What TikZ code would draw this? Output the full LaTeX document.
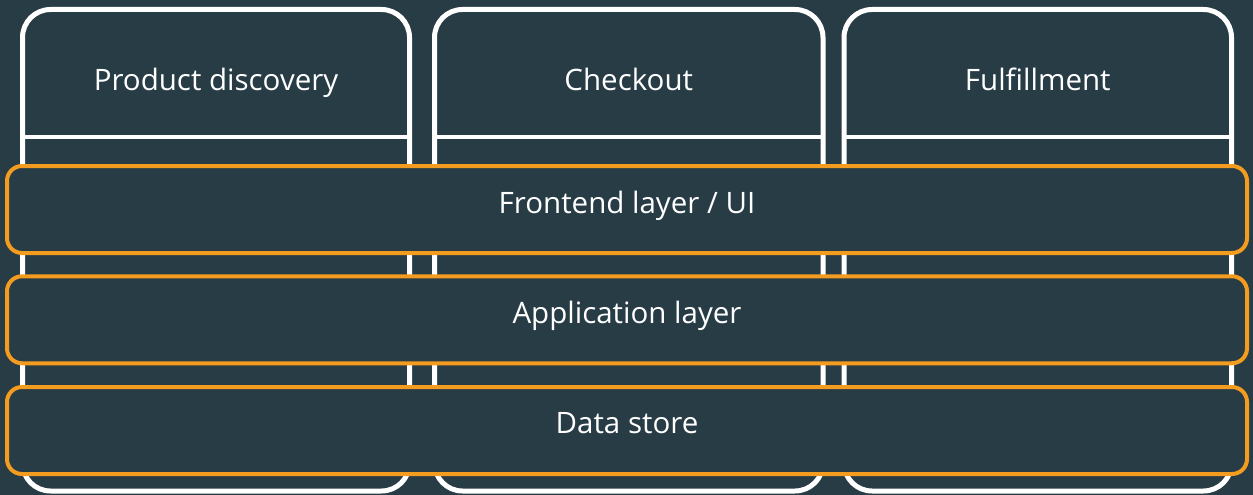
\documentclass[tikz,border=0pt]{standalone}
\usepackage{fontspec}
\setmainfont{Open Sans}
\definecolor{bg}{HTML}{283C46}
\definecolor{layerorange}{HTML}{F39C20}
\tikzset{
  colbox/.style={draw=white, line width=5pt, rounded corners=28pt, minimum width=387pt, minimum height=481.5pt, inner sep=0pt, outer sep=0pt},
  divider/.style={draw=white, line width=4pt},
  layerbox/.style={draw=layerorange, fill=bg, line width=4pt, rounded corners=15pt, minimum width=1240pt, minimum height=87pt, inner sep=0pt, outer sep=0pt},
  lbl/.style={text=white, font=\fontsize{29.5}{35}\selectfont, anchor=base, inner sep=0pt}
}
\begin{document}
\begin{tikzpicture}[x=1pt,y=-1pt]
\fill[bg] (0,0) rectangle (1253,495);
\useasboundingbox (0,0) rectangle (1253,495);
% columns
\node[colbox] (c1) at (216,250.25) {};
\node[colbox, minimum width=388.5pt] (c2) at (628.75,250.25) {};
\node[colbox, minimum width=387.5pt] (c3) at (1037.75,250.25) {};
\coordinate (hl) at (0,137);
\draw[divider] (c1.west |- hl) -- (c1.east |- hl);
\draw[divider] (c2.west |- hl) -- (c2.east |- hl);
\draw[divider] (c3.west |- hl) -- (c3.east |- hl);
\node[lbl] (t1) at (216,90) {Product discovery};
\node[lbl] (t2) at (628.75,90) {Checkout};
\node[lbl] (t3) at (1037.75,90) {Fulfillment};
% layers
\node[layerbox] (l1) at (627,209.5) {};
\node[layerbox] (l2) at (627,319.75) {};
\node[layerbox] (l3) at (627,430.5) {};
\node[lbl] (lt1) at (627,213.3) {Frontend layer / UI};
\node[lbl] (lt2) at (627,323.5) {Application layer};
\node[lbl] (lt3) at (627,433.5) {Data store};
\end{tikzpicture}
\end{document}
